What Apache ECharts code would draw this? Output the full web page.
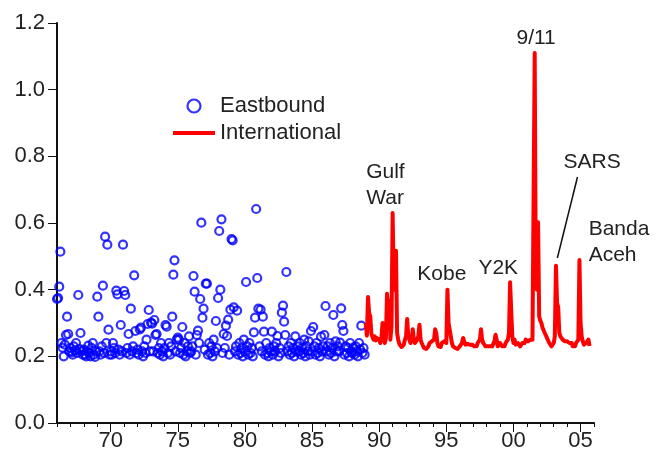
<!DOCTYPE html>
<html>
<head>
<meta charset="utf-8">
<script src="https://cdn.jsdelivr.net/npm/echarts@6.0.0/dist/echarts.min.js"></script>
<style>
  html, body { margin: 0; padding: 0; background: #fff; }
  #chart { width: 670px; height: 456px; }
</style>
</head>
<body>
<div id="chart"></div>
<script>
// Monthly ratio series. Eastbound starts January 1966, International January 1989.
const eastboundStart = 1966;
const eastbound = [
  // 1966
  0.372, 0.375, 0.409, 0.514, 0.240, 0.226, 0.200, 0.235, 0.264, 0.319, 0.267, 0.215,
  // 1967
  0.225, 0.212, 0.205, 0.230, 0.218, 0.240, 0.210, 0.384, 0.222, 0.270, 0.215, 0.205,
  // 1968
  0.220, 0.205, 0.200, 0.215, 0.232, 0.210, 0.200, 0.225, 0.240, 0.205, 0.198, 0.215,
  // 1969
  0.379, 0.319, 0.215, 0.205, 0.230, 0.412, 0.210, 0.559, 0.240, 0.535, 0.280, 0.205,
  // 1970
  0.215, 0.205, 0.240, 0.225, 0.210, 0.397, 0.386, 0.220, 0.205, 0.294, 0.215, 0.535,
  // 1971
  0.396, 0.384, 0.210, 0.225, 0.267, 0.205, 0.343, 0.215, 0.230, 0.443, 0.276, 0.210,
  // 1972
  0.220, 0.205, 0.281, 0.286, 0.215, 0.200, 0.230, 0.210, 0.250, 0.297, 0.339, 0.215,
  // 1973
  0.301, 0.298, 0.215, 0.309, 0.264, 0.267, 0.210, 0.225, 0.205, 0.240, 0.215, 0.200,
  // 1974
  0.225, 0.294, 0.289, 0.210, 0.240, 0.205, 0.230, 0.319, 0.445, 0.488, 0.215, 0.250,
  // 1975
  0.256, 0.250, 0.210, 0.225, 0.288, 0.205, 0.240, 0.200, 0.215, 0.230, 0.260, 0.210,
  // 1976
  0.215, 0.230, 0.441, 0.394, 0.205, 0.264, 0.277, 0.240, 0.372, 0.601, 0.316, 0.343,
  // 1977
  0.220, 0.418, 0.418, 0.205, 0.240, 0.210, 0.230, 0.200, 0.250, 0.215, 0.306, 0.225,
  // 1978
  0.375, 0.576, 0.400, 0.611, 0.210, 0.267, 0.225, 0.292, 0.261, 0.310, 0.205, 0.340,
  // 1979
  0.552, 0.548, 0.347, 0.215, 0.230, 0.337, 0.205, 0.240, 0.210, 0.225, 0.200, 0.250,
  // 1980
  0.215, 0.423, 0.230, 0.205, 0.240, 0.210, 0.225, 0.200, 0.272, 0.316, 0.642, 0.435,
  // 1981
  0.343, 0.230, 0.340, 0.215, 0.319, 0.274, 0.205, 0.240, 0.210, 0.200, 0.225, 0.215,
  // 1982
  0.274, 0.205, 0.230, 0.215, 0.240, 0.261, 0.200, 0.225, 0.210, 0.331, 0.352, 0.304,
  // 1983
  0.264, 0.453, 0.215, 0.230, 0.205, 0.240, 0.210, 0.225, 0.200, 0.260, 0.215, 0.230,
  // 1984
  0.215, 0.240, 0.205, 0.225, 0.210, 0.250, 0.200, 0.230, 0.215, 0.245, 0.205, 0.276,
  // 1985
  0.215, 0.288, 0.230, 0.205, 0.240, 0.210, 0.225, 0.200, 0.259, 0.215, 0.230, 0.264,
  // 1986
  0.351, 0.215, 0.230, 0.205, 0.240, 0.210, 0.225, 0.324, 0.200, 0.245, 0.215, 0.230,
  // 1987
  0.215, 0.241, 0.344, 0.294, 0.276, 0.205, 0.230, 0.210, 0.225, 0.200, 0.240, 0.215,
  // 1988
  0.210, 0.226, 0.205, 0.230, 0.215, 0.200, 0.240, 0.220, 0.292, 0.210, 0.225, 0.205
];

const internationalStart = 1989;
const international = [
  // 1989
  0.300, 0.262, 0.378, 0.330, 0.320, 0.268, 0.258, 0.250, 0.260, 0.248, 0.255, 0.250,
  // 1990
  0.250, 0.240, 0.255, 0.300, 0.278, 0.240, 0.255, 0.388, 0.340, 0.367, 0.250, 0.290,
  // 1991
  0.630, 0.420, 0.400, 0.517, 0.270, 0.250, 0.237, 0.240, 0.228, 0.227, 0.235, 0.250,
  // 1992
  0.260, 0.312, 0.260, 0.250, 0.240, 0.250, 0.281, 0.250, 0.240, 0.238, 0.250, 0.262,
  // 1993
  0.295, 0.250, 0.240, 0.235, 0.225, 0.230, 0.222, 0.225, 0.230, 0.240, 0.235, 0.245,
  // 1994
  0.240, 0.250, 0.281, 0.270, 0.240, 0.230, 0.235, 0.228, 0.240, 0.235, 0.245, 0.240,
  // 1995
  0.240, 0.400, 0.300, 0.280, 0.260, 0.240, 0.230, 0.225, 0.225, 0.230, 0.222, 0.225,
  // 1996
  0.230, 0.235, 0.240, 0.255, 0.250, 0.235, 0.230, 0.237, 0.240, 0.235, 0.240, 0.235,
  // 1997
  0.240, 0.230, 0.235, 0.230, 0.240, 0.245, 0.250, 0.281, 0.250, 0.240, 0.235, 0.230,
  // 1998
  0.225, 0.230, 0.225, 0.230, 0.235, 0.230, 0.235, 0.245, 0.265, 0.250, 0.230, 0.235,
  // 1999
  0.240, 0.235, 0.230, 0.235, 0.230, 0.240, 0.235, 0.250, 0.270, 0.422, 0.337, 0.260,
  // 2000
  0.240, 0.250, 0.235, 0.230, 0.240, 0.235, 0.230, 0.235, 0.240, 0.245, 0.240, 0.250,
  // 2001
  0.250, 0.245, 0.240, 0.250, 0.245, 0.250, 0.250, 1.110, 0.420, 0.400, 0.602, 0.320,
  // 2002
  0.307, 0.300, 0.286, 0.290, 0.270, 0.266, 0.255, 0.250, 0.240, 0.235, 0.230, 0.235,
  // 2003
  0.240, 0.260, 0.472, 0.360, 0.347, 0.270, 0.260, 0.255, 0.250, 0.255, 0.245, 0.250,
  // 2004
  0.245, 0.250, 0.240, 0.235, 0.240, 0.230, 0.235, 0.230, 0.240, 0.235, 0.250, 0.489,
  // 2005
  0.300, 0.260, 0.245, 0.235, 0.230, 0.240, 0.235, 0.250, 0.231
];

const yearMin = 1966;
const yearMax = 2006;
const yTicks = [0, 0.2, 0.4, 0.6, 0.8, 1.0, 1.2];

// Event captions, anchored at (year, value) in chart coordinates.
const events = [
  { lines: ['Gulf', 'War'], year: 1989.03, value: 0.753, align: 'left' },
  { lines: ['Kobe'], year: 1992.84, value: 0.447, align: 'left' },
  { lines: ['Y2K'], year: 1997.39, value: 0.465, align: 'left' },
  { lines: ['9/11'], year: 2001.69, value: 1.155, align: 'center' },
  { lines: ['SARS'], year: 2003.73, value: 0.783, align: 'left' },
  { lines: ['Banda', 'Aceh'], year: 2005.6, value: 0.582, align: 'left' }
];
// Leader line from the SARS caption down to its peak.
const sarsLeader = [[2004.77, 0.738], [2003.27, 0.495]];

const FONT = '"Liberation Sans", Arial, Helvetica, sans-serif';
const TEXT_COLOR = '#222';

const toMonthly = (start, values) => values.map((v, i) => [start + i / 12, v]);

const years = [];
for (let y = yearMin; y <= yearMax; y++) years.push(String(y));

const chart = echarts.init(document.getElementById('chart'), null, { renderer: 'canvas' });

const option = {
  animation: false,
  backgroundColor: '#fff',
  grid: { left: 57, right: 76, top: 23, bottom: 33 },
  legend: {
    orient: 'vertical',
    left: 168,
    top: 90,
    padding: 5,
    itemWidth: 42,
    itemHeight: 13,
    itemGap: 5,
    textStyle: { fontSize: 22, color: TEXT_COLOR, fontFamily: FONT },
    data: [
      {
        name: 'Eastbound',
        icon: 'circle',
        itemStyle: { color: 'rgba(0,0,0,0)', borderColor: '#0000ff', borderWidth: 2.2 }
      },
      {
        name: 'International',
        icon: 'path://M0,0 L42,0 L42,4 L0,4 Z',
        itemStyle: { color: '#ff0000', borderWidth: 0 }
      }
    ]
  },
  xAxis: [
    {
      type: 'value',
      min: yearMin,
      max: yearMax,
      interval: 1,
      axisLine: { show: true, lineStyle: { color: '#111', width: 2 } },
      axisTick: { show: true, length: 4, lineStyle: { color: '#111', width: 1 } },
      axisLabel: { show: false },
      splitLine: { show: false }
    },
    {
      // Five-year major ticks and their two-digit labels
      type: 'category',
      data: years,
      boundaryGap: false,
      position: 'bottom',
      axisLine: { show: false },
      axisTick: {
        show: true,
        length: 9,
        interval: (idx, val) => Number(val) % 5 === 0,
        lineStyle: { color: '#111', width: 1 }
      },
      axisLabel: {
        show: true,
        interval: (idx, val) => Number(val) % 5 === 0,
        formatter: (val) => String(val).slice(2),
        fontSize: 22,
        color: TEXT_COLOR,
        fontFamily: FONT,
        margin: 7
      },
      splitLine: { show: false }
    }
  ],
  yAxis: {
    type: 'value',
    min: yTicks[0],
    max: yTicks[yTicks.length - 1],
    interval: 0.2,
    axisLine: { show: true, lineStyle: { color: '#111', width: 2 } },
    axisTick: { show: true, length: 9, lineStyle: { color: '#111', width: 1 } },
    axisLabel: {
      formatter: (v) => v.toFixed(1),
      fontSize: 22,
      color: TEXT_COLOR,
      fontFamily: FONT,
      margin: 12
    },
    splitLine: { show: false }
  },
  series: [
    {
      name: 'Eastbound',
      type: 'scatter',
      xAxisIndex: 0,
      data: toMonthly(eastboundStart, eastbound),
      symbol: 'circle',
      symbolSize: 8,
      itemStyle: { color: 'rgba(0,0,0,0)', borderColor: '#0000ff', borderWidth: 2.2 },
      z: 2
    },
    {
      name: 'International',
      type: 'line',
      xAxisIndex: 0,
      data: toMonthly(internationalStart, international),
      symbol: 'none',
      lineStyle: { color: '#ff0000', width: 4, join: 'round' },
      itemStyle: { color: '#ff0000' },
      z: 3
    }
  ]
};

chart.setOption(option);

function drawAnnotations() {
  const toPx = (pt) => chart.convertToPixel({ xAxisIndex: 0, yAxisIndex: 0 }, pt);
  const elements = [];
  events.forEach((ev) => {
    const p = toPx([ev.year, ev.value]);
    ev.lines.forEach((line, k) => {
      elements.push({
        type: 'text',
        x: p[0],
        y: p[1] + k * 26,
        style: {
          text: line,
          fontSize: 21,
          fontFamily: FONT,
          fill: TEXT_COLOR,
          textAlign: ev.align,
          textVerticalAlign: 'middle'
        },
        silent: true
      });
    });
  });
  const a = toPx(sarsLeader[0]);
  const b = toPx(sarsLeader[1]);
  elements.push({
    type: 'line',
    shape: { x1: a[0], y1: a[1], x2: b[0], y2: b[1] },
    style: { stroke: '#111', lineWidth: 1.5 },
    silent: true
  });
  chart.setOption({ graphic: { elements: elements } });
}
drawAnnotations();
</script>
</body>
</html>
